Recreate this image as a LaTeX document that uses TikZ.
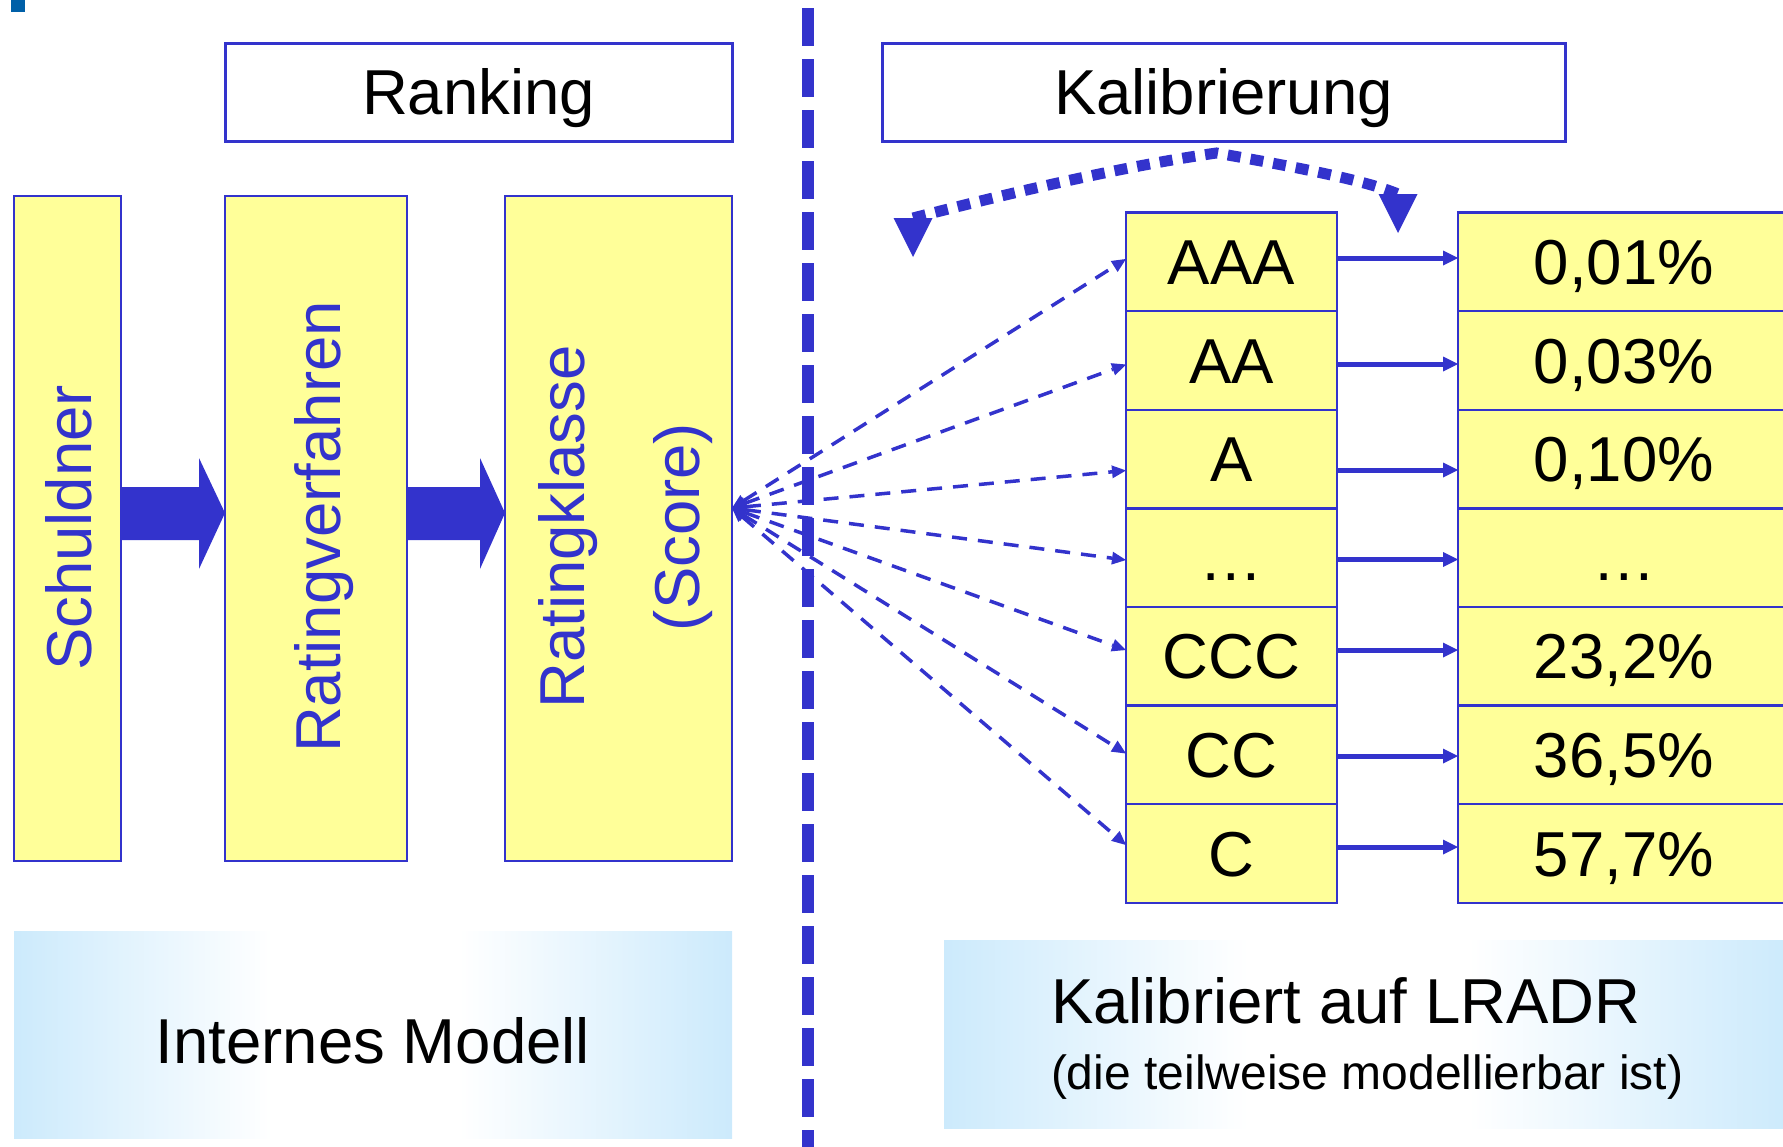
\documentclass[tikz,border=0pt]{standalone}
\usepackage{fontspec}
\setmainfont{Liberation Sans}
\usetikzlibrary{arrows.meta,calc}

\definecolor{rblue}{RGB}{51,51,204}
\definecolor{ryellow}{RGB}{255,255,153}
\definecolor{panelblue}{RGB}{204,234,252}
\definecolor{cornerblue}{RGB}{0,96,168}

% light blue at both edges, white band in the middle
\pgfdeclarehorizontalshading{panelgrad}{100bp}{%
  color(0bp)=(panelblue); color(25bp)=(panelblue);
  color(43bp)=(white); color(56bp)=(white);
  color(75bp)=(panelblue); color(100bp)=(panelblue)}

\newcommand\fsLarge{\fontsize{63.5pt}{76pt}\selectfont}
\newcommand\fsSmall{\fontsize{48pt}{58pt}\selectfont}

\begin{document}
\begin{tikzpicture}[x=1pt,y=-1pt,
  ybox/.style={draw=rblue, line width=2.5pt, fill=ryellow, inner sep=0pt, outer sep=0pt},
  headbox/.style={draw=rblue, line width=3pt, fill=white, inner sep=0pt, outer sep=0pt,
    font=\fsLarge, text height=45.5pt, text depth=0pt, minimum height=98pt},
  cell/.style={ybox, font=\fsLarge, text height=45pt, text depth=0pt, minimum height=98.6pt},
  ratecell/.style={cell, minimum width=211pt},
  pdcell/.style={cell, minimum width=332pt},
  vlabel/.style={rotate=90, text=rblue, font=\fsLarge, inner sep=0pt},
  sepline/.style={draw=rblue, line width=11.5pt, dash pattern=on 37.5pt off 13.5pt},
  fanarrow/.style={draw=rblue, line width=3.5pt, dash pattern=on 15pt off 11pt,
    {Triangle[length=14pt,width=13pt,line width=0pt]}-{Triangle[length=14pt,width=13pt,line width=0pt]}},
  maparrow/.style={draw=rblue, line width=5pt, -{Triangle[length=15pt,width=15pt,line width=0pt]}},
  dotcurve/.style={draw=rblue, line width=11pt, dash pattern=on 13pt off 10pt,
    {Triangle[length=39pt,width=39pt,line width=0pt]}-{Triangle[length=39pt,width=39pt,line width=0pt]}},
  panel/.style={shading=panelgrad, inner sep=0pt, outer sep=0pt},
  plain/.style={inner sep=0pt, outer sep=0pt}
]
\useasboundingbox (0,0) rectangle (1783,1146);
\clip (0,0) rectangle (1783,1146);

% corner mark
\fill[cornerblue] (11,0) rectangle (25,12);

% shaded panels at the bottom
\node[panel, minimum width=718pt, minimum height=207pt] (pleft) at (373,1034.5) {};
\node[panel, minimum width=846pt, minimum height=188pt] (pright) at (1367,1034) {};
\node[plain, font=\fsLarge, anchor=base] (tmodel) at (373,1063) {Internes Modell};
\node[plain, font=\fsLarge, anchor=base west] (tcal) at (1051,1023) {Kalibriert auf LRADR};
\node[plain, font=\fsSmall, anchor=base west] (tsub) at (1051,1089) {(die teilweise modellierbar ist)};

% ranking chain
\node[ybox, minimum width=107pt, minimum height=665pt] (sch) at (67.5,528.5) {};
\node[ybox, minimum width=182pt, minimum height=665pt] (verf) at (316,528.5) {};
\node[ybox, minimum width=227pt, minimum height=665pt] (score) at (618.5,528.5) {};
\node[vlabel] (tsch) at (69,528) {Schuldner};
\node[vlabel] (tverf) at (324,527) {Ratingverfahren};
\node[vlabel, align=center, font=\fontsize{63.5pt}{115pt}\selectfont] (tscore) at (626,527) {Ratingklasse\\(Score)};

% block arrows
\fill[rblue] (sch.east |- 0,487) -- (199,487) -- (199,458) -- (verf.west |- 0,513)
  -- (199,569) -- (199,540) -- (sch.east |- 0,540) -- cycle;
\fill[rblue] (verf.east |- 0,487) -- (480,487) -- (480,458) -- (score.west |- 0,513)
  -- (480,569) -- (480,540) -- (verf.east |- 0,540) -- cycle;

% headings
\node[headbox, minimum width=507pt] (rank) at (478.5,92) {Ranking};
\node[headbox, minimum width=683pt] (kal) at (1223.5,92) {Kalibrierung};

% rating classes and default rates
\node[ratecell] (r1) at (1231.5,261.9) {AAA};
\node[ratecell] (r2) at (1231.5,360.5) {AA};
\node[ratecell] (r3) at (1231.5,459.1) {A};
\node[ratecell] (r4) at (1231.5,557.7) {…};
\node[ratecell] (r5) at (1231.5,656.3) {CCC};
\node[ratecell] (r6) at (1231.5,754.9) {CC};
\node[ratecell] (r7) at (1231.5,853.5) {C};
\node[pdcell] (p1) at (1624,261.9) {0,01\%};
\node[pdcell] (p2) at (1624,360.5) {0,03\%};
\node[pdcell] (p3) at (1624,459.1) {0,10\%};
\node[pdcell] (p4) at (1624,557.7) {…};
\node[pdcell] (p5) at (1624,656.3) {23,2\%};
\node[pdcell] (p6) at (1624,754.9) {36,5\%};
\node[pdcell] (p7) at (1624,853.5) {57,7\%};

% separator between the two halves
\draw[sepline] (808,8) -- (808,1150);

% score fans out to the rating classes, classes map to rates
\foreach \i/\y in {1/259,2/364.5,3/470.5,4/560,5/650,6/753.5,7/845} {
  \draw[fanarrow] (score.east |- 0,508) -- (r\i.west |- 0,\y);
}
\foreach \i/\y in {1/258,2/364,3/470,4/559.5,5/650,6/756,7/847} {
  \draw[maparrow] (r\i.east |- 0,\y) -- (p\i.west |- 0,\y);
}

% calibration reaches both sides
\coordinate (apex) at ($(kal.south)+(-7,12)$);
\coordinate (kLb) at (913,218);
\coordinate (kL) at (913,257);
\coordinate (kRb) at (1398,194);
\coordinate (kR) at (1398,233);
\draw[dotcurve] (kL) -- (kLb) .. controls (975,202) and (1110,168) .. (apex)
  .. controls (1290,166) and (1365,180) .. (kRb) -- (kR);
\end{tikzpicture}
\end{document}
